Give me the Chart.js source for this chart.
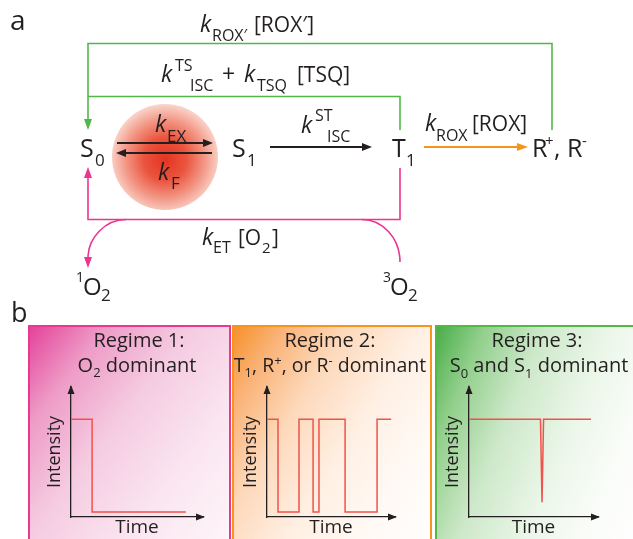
<!DOCTYPE html>
<html><head><meta charset="utf-8">
<script src="https://cdn.jsdelivr.net/npm/chart.js@4.4.1/dist/chart.umd.min.js"></script>
<style>
html,body{margin:0;padding:0;background:#fff;}
#root{position:relative;width:633px;height:539px;overflow:hidden;font-family:'Open Sans',sans-serif;color:#231f20;}
.panel{position:absolute;top:325px;height:240px;box-sizing:border-box;border:2px solid;}
#p1{left:28px;width:203px;border-color:#e8388f;background:linear-gradient(128deg,#e4439a 0%,#ee9cc7 20%,#f5cbe1 42%,#fae5f0 68%,#fff8fb 100%);}
#p2{left:232px;width:200px;border-color:#f7941d;background:linear-gradient(122deg,#f6912a 0%,#fab47a 15%,#fdd9bb 33%,#fff0e4 55%,#fffaf6 78%,#fff 100%);}
#p3{left:435px;width:205px;border-color:#52b848;background:linear-gradient(112deg,#4aae48 0%,#92cf8c 16%,#cde8c9 36%,#eaf6e8 58%,#fbfdfa 80%,#fff 100%);}
#glow{position:absolute;left:112px;top:104px;width:106px;height:106px;border-radius:50%;background:radial-gradient(circle at 50% 52%,rgba(228,52,32,1) 0%,rgba(233,74,50,0.94) 28%,rgba(238,112,88,0.72) 52%,rgba(244,155,132,0.42) 72%,rgba(250,200,188,0.16) 88%,rgba(255,255,255,0) 100%);}
canvas{position:absolute;}
svg{position:absolute;left:0;top:0;}
svg text{font-family:'Open Sans',sans-serif;fill:#231f20;}
</style></head>
<body>
<div id="root">
  <div class="panel" id="p1"></div>
  <div class="panel" id="p2"></div>
  <div class="panel" id="p3"></div>
  <div id="glow"></div>
  <canvas id="c1" width="200" height="159" style="left:28px;top:380px;width:200px;height:159px"></canvas>
  <canvas id="c2" width="196" height="159" style="left:224px;top:380px;width:196px;height:159px"></canvas>
  <canvas id="c3" width="197" height="159" style="left:426px;top:380px;width:197px;height:159px"></canvas>
  <svg width="633" height="539" viewBox="0 0 633 539">
    <g fill="none" stroke="#50b848" stroke-width="1.6">
      <path d="M552,130 V43.5 H88 V120"/>
      <path d="M400,130 V96.5 H88"/>
    </g>
    <polygon points="84,119 92,119 88,130" fill="#50b848"/>
    <g fill="none" stroke="#ec3590" stroke-width="1.6">
      <path d="M88,177 V219.5 H400 V168"/>
      <path d="M126,219.5 C105,219.5 88,238 88,258"/>
      <path d="M362,219.5 C382.4,219.5 400,238 400,262"/>
    </g>
    <polygon points="84,178 92,178 88,167" fill="#ec3590"/>
    <polygon points="84,257 92,257 88,268" fill="#ec3590"/>
    <g stroke="#231f20" stroke-width="1.8">
      <line x1="117" y1="143" x2="205" y2="143"/>
      <line x1="212" y1="153" x2="125" y2="153"/>
      <line x1="270" y1="147" x2="364" y2="147"/>
    </g>
    <polygon points="203,139 213,143 203,147" fill="#231f20"/>
    <polygon points="126,149 116,153 126,157" fill="#231f20"/>
    <polygon points="362,143 372,147 362,151" fill="#231f20"/>
    <line x1="424" y1="147" x2="519" y2="147" stroke="#f7941d" stroke-width="1.8"/>
    <polygon points="517,143 528,147 517,151" fill="#f7941d"/>

    <text x="10" y="30" font-size="28">a</text>
    <text x="11" y="322" font-size="27">b</text>

    <text x="200" y="32" font-size="23" font-style="italic">k</text>
    <text x="212" y="41" font-size="16">ROX′</text>
    <text x="254" y="32" font-size="21">[ROX′]</text>

    <text x="161" y="82" font-size="23" font-style="italic">k</text>
    <text x="175" y="71" font-size="16">TS</text>
    <text x="190" y="91" font-size="16">ISC</text>
    <text x="222" y="82" font-size="23">+</text>
    <text x="244" y="82" font-size="23" font-style="italic">k</text>
    <text x="257" y="91" font-size="16">TSQ</text>
    <text x="297" y="82" font-size="21">[TSQ]</text>

    <text x="155" y="132" font-size="23" font-style="italic">k</text>
    <text x="167" y="142" font-size="17">EX</text>
    <text x="158" y="180" font-size="23" font-style="italic">k</text>
    <text x="171" y="189" font-size="17">F</text>

    <text x="80" y="157" font-size="25">S</text>
    <text x="95" y="166" font-size="17">0</text>
    <text x="232" y="157" font-size="25">S</text>
    <text x="247" y="166" font-size="17">1</text>

    <text x="301" y="133" font-size="23" font-style="italic">k</text>
    <text x="315" y="121" font-size="16">ST</text>
    <text x="327" y="142" font-size="16">ISC</text>

    <text x="392" y="157" font-size="25">T</text>
    <text x="406" y="166" font-size="17">1</text>

    <text x="425" y="131" font-size="23" font-style="italic">k</text>
    <text x="436" y="141" font-size="16">ROX</text>
    <text x="472" y="131" font-size="21">[ROX]</text>

    <text x="532" y="157" font-size="25">R</text>
    <text x="545" y="146" font-size="15">+</text>
    <text x="554" y="157" font-size="25">,</text>
    <text x="567" y="157" font-size="25">R</text>
    <text x="582" y="146" font-size="15">-</text>

    <text x="202" y="245" font-size="23" font-style="italic">k</text>
    <text x="213" y="253" font-size="16">ET</text>
    <text x="238" y="245" font-size="21">[O</text>
    <text x="262" y="253" font-size="15">2</text>
    <text x="272" y="245" font-size="21">]</text>

    <text x="76" y="282" font-size="14">1</text>
    <text x="83" y="295" font-size="24">O</text>
    <text x="101" y="301" font-size="17">2</text>
    <text x="383" y="282" font-size="14">3</text>
    <text x="390" y="295" font-size="24">O</text>
    <text x="408" y="301" font-size="17">2</text>

    <text x="139" y="347" font-size="20" text-anchor="middle">Regime 1:</text>
    <text x="137" y="372" font-size="20" text-anchor="middle">O<tspan font-size="13" dy="5">2</tspan><tspan dy="-5"> dominant</tspan></text>
    <text x="330" y="347" font-size="20" text-anchor="middle">Regime 2:</text>
    <text x="330" y="372" font-size="19.5" text-anchor="middle">T<tspan font-size="13" dy="5">1</tspan><tspan dy="-5">, R</tspan><tspan font-size="13" dy="-7">+</tspan><tspan dy="7">, or R</tspan><tspan font-size="13" dy="-7">-</tspan><tspan dy="7"> dominant</tspan></text>
    <text x="537" y="347" font-size="20" text-anchor="middle">Regime 3:</text>
    <text x="539" y="372" font-size="20" text-anchor="middle">S<tspan font-size="13" dy="6">0</tspan><tspan dy="-6"> and S</tspan><tspan font-size="13" dy="6">1</tspan><tspan dy="-6"> dominant</tspan></text>
  </svg>
</div>
<script>
// ---- data ----
const timeRange = [0, 100];
const intensityMax = 1.33;
const regime1Time = [0, 16, 87];
const regime1Intensity = [1, 0.05, 0.05];
const regime2Time = [0, 8.6, 25, 36, 40.6, 61, 86, 97];
const regime2Intensity = [1, 0.05, 1, 0.05, 1, 0.05, 1, 1];
const regime3Time = [0, 55.4, 56.6, 57.8, 94.6];
const regime3Intensity = [1, 1, 0.15, 1, 1];
const axisTitles = ['Time', 'Intensity'];

const ink = '#231f20';
const traceColor = '#f1524a';

const axisArrows = {
  id: 'axisArrows',
  afterDraw(chart) {
    const {ctx, chartArea: a} = chart;
    ctx.save();
    ctx.fillStyle = ink;
    ctx.beginPath();
    ctx.moveTo(a.left, a.top - 2);
    ctx.lineTo(a.left - 3.5, a.top + 7);
    ctx.lineTo(a.left + 3.5, a.top + 7);
    ctx.closePath();
    ctx.fill();
    ctx.beginPath();
    ctx.moveTo(a.right + 2, a.bottom);
    ctx.lineTo(a.right - 7, a.bottom - 3.5);
    ctx.lineTo(a.right - 7, a.bottom + 3.5);
    ctx.closePath();
    ctx.fill();
    ctx.restore();
  }
};

function makeChart(id, times, values, stepped, rightPad) {
  new Chart(document.getElementById(id), {
    type: 'line',
    data: {
      datasets: [{
        data: times.map((t, i) => ({x: t, y: values[i]})),
        borderColor: traceColor,
        borderWidth: 1.5,
        pointRadius: 0,
        stepped: stepped ? 'before' : false,
        tension: 0,
        fill: false,
        clip: false
      }]
    },
    options: {
      responsive: false,
      animation: false,
      devicePixelRatio: 1,
      events: [],
      layout: {padding: {left: 0, top: 7, right: rightPad, bottom: 0}},
      plugins: {legend: {display: false}, tooltip: {enabled: false}},
      scales: {
        x: {
          type: 'linear', min: timeRange[0], max: timeRange[1],
          grid: {display: false, drawTicks: false},
          border: {display: true, color: ink, width: 1.3},
          ticks: {display: false},
          title: {display: true, text: axisTitles[0], color: ink,
                  font: {family: 'Open Sans', size: 19}, padding: {top: 0, bottom: 0}},
          afterFit: s => { s.height = 22; }
        },
        y: {
          type: 'linear', min: 0, max: intensityMax,
          grid: {display: false, drawTicks: false},
          border: {display: true, color: ink, width: 1.3},
          ticks: {display: false},
          title: {display: true, text: axisTitles[1], color: ink,
                  font: {family: 'Open Sans', size: 18}, padding: {top: 16, bottom: 0}},
          afterFit: s => { s.width = 43; }
        }
      }
    },
    plugins: [axisArrows]
  });
}

makeChart('c1', regime1Time, regime1Intensity, true, 25);
makeChart('c2', regime2Time, regime2Intensity, true, 25);
makeChart('c3', regime3Time, regime3Intensity, false, 25);
</script>
</body></html>
